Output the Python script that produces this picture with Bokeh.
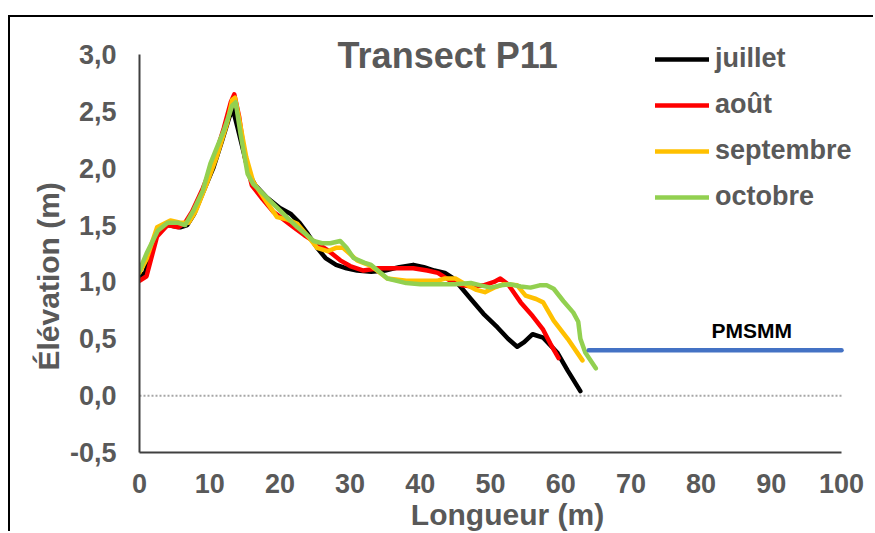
from bokeh.plotting import figure
from bokeh.models import (FixedTicker, CustomJSTickFormatter, Label, Legend, LegendItem, Title)
from bokeh.embed import file_html
from bokeh.resources import INLINE

# Transect P11 beach profiles: distance along transect (m) and elevation (m)
juillet_x = [0, 0.8, 2.5, 4, 5.8, 6.8, 7.8, 9, 10.5, 11.8, 12.8, 13.3, 14, 14.8, 15.6, 16.5, 18, 20,
             21.5, 22.8, 24, 25.3, 26.5, 28, 29.5, 31, 33, 35, 37, 39, 40.5, 42, 43.5, 44.5, 45.7,
             47.2, 49, 51, 52.5, 53.8, 54.8, 56, 57.5, 59.5, 61, 62.8]
juillet_y = [1.05, 1.08, 1.42, 1.5, 1.48, 1.5, 1.6, 1.78, 2.0, 2.25, 2.45, 2.52, 2.35, 2.15, 1.95,
             1.85, 1.75, 1.65, 1.6, 1.52, 1.42, 1.3, 1.21, 1.15, 1.12, 1.1, 1.09, 1.1, 1.13, 1.15,
             1.13, 1.1, 1.08, 1.04, 0.96, 0.85, 0.72, 0.6, 0.5, 0.43, 0.47, 0.54, 0.51, 0.38, 0.22,
             0.04]

aout_x = [0, 1, 2.5, 4, 5.5, 6.5, 7.5, 9, 10.5, 12, 13, 13.5, 14.2, 15, 16, 17.5, 19, 20.5, 22,
          23.5, 25.3, 27, 28.6, 30, 31.9, 34, 37, 39, 41, 42.5, 44.3, 46, 47.5, 49, 50.5, 51.4,
          52.5, 54.3, 56, 57.5, 58.5, 59.7]
aout_y = [1.01, 1.05, 1.4, 1.5, 1.48, 1.52, 1.62, 1.82, 2.05, 2.35, 2.58, 2.65, 2.45, 2.1, 1.85,
          1.73, 1.62, 1.55, 1.48, 1.41, 1.34, 1.27, 1.19, 1.14, 1.1, 1.12, 1.12, 1.12, 1.1, 1.08,
          1.01, 0.97, 0.96, 0.97, 1.0, 1.03, 0.98, 0.82, 0.7, 0.58, 0.46, 0.33]

septembre_x = [0, 1, 2.5, 4.4, 5.8, 7, 8, 9.5, 11, 12.5, 13.2, 13.6, 14.3, 15.2, 16.2, 17.7, 19.6,
               21, 22.5, 24, 25.3, 26.8, 28, 29, 31, 33, 35.3, 38, 40, 42.4, 43.5, 45, 46.7, 48,
               49.2, 50.5, 51.9, 53.8, 55, 56.5, 57.5, 59, 61, 63.1]
septembre_y = [1.08, 1.2, 1.48, 1.54, 1.52, 1.52, 1.62, 1.85, 2.1, 2.4, 2.6, 2.62, 2.4, 2.1, 1.88,
               1.74, 1.57, 1.55, 1.51, 1.4, 1.3, 1.27, 1.3, 1.3, 1.19, 1.14, 1.03, 1.01, 1.01,
               1.01, 1.03, 1.03, 0.97, 0.93, 0.91, 0.95, 0.98, 0.97, 0.88, 0.85, 0.82, 0.66, 0.5,
               0.31]

octobre_x = [0, 1, 2.6, 4, 5.5, 6.5, 7.7, 9, 10.1, 12, 13.2, 13.7, 14.4, 15.4, 16.2, 17.2, 18.5, 20,
             21.3, 22.5, 23.7, 24.8, 26, 27.2, 28.6, 29.5, 30.5, 32, 33, 35.3, 38, 40, 42.4, 45,
             47.2, 48.6, 50, 51.5, 52.8, 54.3, 55.7, 57, 58, 59, 60.4, 61.8, 62.5, 62.8, 63.5, 65]
octobre_y = [1.1, 1.25, 1.45, 1.52, 1.52, 1.5, 1.63, 1.8, 2.04, 2.33, 2.55, 2.58, 2.3, 1.95, 1.86,
             1.8, 1.72, 1.63, 1.55, 1.48, 1.42, 1.36, 1.34, 1.34, 1.36, 1.3, 1.21, 1.17, 1.15,
             1.03, 0.99, 0.98, 0.98, 0.98, 0.99, 0.97, 0.95, 0.97, 0.98, 0.96, 0.95, 0.97, 0.97,
             0.94, 0.83, 0.73, 0.65, 0.5, 0.38, 0.24]

# Mean spring high-water level
pmsmm_x = [64, 100]
pmsmm_y = [0.4, 0.4]

x_ticks = [0, 10, 20, 30, 40, 50, 60, 70, 80, 90, 100]
y_ticks = [-0.5, 0.0, 0.5, 1.0, 1.5, 2.0, 2.5, 3.0]

FONT = "Liberation Sans"
GREY = "#595959"

# The plotting frame runs past the axis ends (right and top) so the title,
# legend and level label can sit inside it; axis lines are bounded to the data.
X_MAX = 100 * 736 / 702
Y_MAX = 3.0 + 37 / (398 / 3.5)

p = figure(width=865, height=516, x_range=(0, X_MAX), y_range=(-0.5, Y_MAX),
           output_backend="svg", toolbar_location=None,
           min_border_left=129, min_border_top=0, min_border_right=0, min_border_bottom=81)
p.styles = {"margin-left": "8px", "margin-top": "15px",
            "border-left": "2px solid #000", "border-top": "2px solid #000"}
p.outline_line_color = None
p.xgrid.visible = False
p.ygrid.visible = False
p.background_fill_color = "white"
p.border_fill_color = "white"

for ax in (p.xaxis[0], p.yaxis[0]):
    ax.axis_line_color = "#404040"
    ax.axis_line_width = 2
    ax.major_tick_line_color = None
    ax.minor_tick_line_color = None
    ax.major_label_text_font = FONT
    ax.major_label_text_font_style = "bold"
    ax.major_label_text_font_size = "27px"
    ax.major_label_text_color = GREY

p.xaxis.bounds = (x_ticks[0], x_ticks[-1])
p.yaxis.bounds = (y_ticks[0], y_ticks[-1])
p.xaxis.ticker = FixedTicker(ticks=x_ticks)
p.yaxis.ticker = FixedTicker(ticks=y_ticks)
p.yaxis.formatter = CustomJSTickFormatter(code="return tick.toFixed(1).replace('.', ',');")
p.xaxis.major_label_standoff = 15
p.yaxis.major_label_standoff = 17

# dotted zero line across the axis extent
p.line([x_ticks[0], x_ticks[-1]], [0, 0], line_color="#a6a6a6", line_width=2, line_dash="2 2")

series = [
    ("juillet", juillet_x, juillet_y, "#000000"),
    ("août", aout_x, aout_y, "#ff0000"),
    ("septembre", septembre_x, septembre_y, "#ffc000"),
    ("octobre", octobre_x, octobre_y, "#92d050"),
]
items = []
for name, xs, ys, col in series:
    r = p.line(xs, ys, line_color=col, line_width=4.5, line_join="round", line_cap="round")
    items.append(LegendItem(label=name, renderers=[r]))

p.line(pmsmm_x, pmsmm_y, line_color="#4472c4", line_width=4.5, line_cap="round")

legend = Legend(items=items, location=(516, 240), orientation="vertical",
                background_fill_alpha=0, border_line_color=None,
                label_text_font=FONT, label_text_font_style="bold",
                label_text_font_size="27px", label_text_color=GREY,
                glyph_width=54, glyph_height=20, label_height=20,
                label_standoff=6, spacing=15, padding=0, margin=0)
p.add_layout(legend)

p.add_layout(Label(x=43.9, y=2.99, text="Transect P11", text_font=FONT,
                   text_font_style="bold", text_font_size="36px", text_color=GREY,
                   text_align="center", text_baseline="middle"))
p.add_layout(Label(x=87.2, y=0.575, text="PMSMM", text_font=FONT,
                   text_font_style="bold", text_font_size="21px", text_color="#000000",
                   text_align="center", text_baseline="middle"))

p.add_layout(Title(text="Longueur (m)", align="center", offset=-2, standoff=0,
                   text_font=FONT, text_font_style="bold", text_font_size="30px",
                   text_color=GREY), "below")
# vertical title starts 82 px above the bottom of the frame
p.add_layout(Title(text="Élévation (m)", align="left", offset=82, standoff=4,
                   text_font=FONT, text_font_style="bold", text_font_size="30px",
                   text_color=GREY), "left")

open("out.html", "w").write(file_html(p, INLINE))
